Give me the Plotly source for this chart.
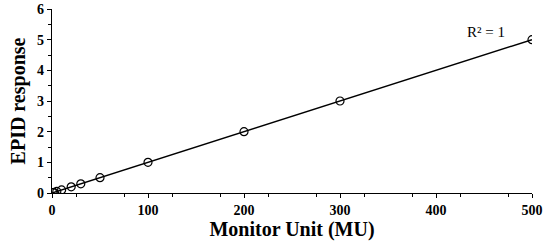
"""EPID response vs monitor units, with linear fit (R^2 = 1)."""
import plotly.graph_objects as go

MU = [1, 2, 5, 10, 20, 30, 50, 100, 200, 300, 500]
RESPONSE = [0.01, 0.02, 0.05, 0.10, 0.20, 0.30, 0.50, 1.00, 2.00, 3.00, 5.00]
FIT_X = [0, 500]
FIT_Y = [0.0, 5.0]
X_TICKS = [0, 100, 200, 300, 400, 500]
Y_TICKS = [0, 1, 2, 3, 4, 5, 6]

FONT = "Liberation Serif"

fig = go.Figure()
fig.add_trace(go.Scatter(x=FIT_X, y=FIT_Y, mode="lines",
                         line=dict(color="black", width=1.5), showlegend=False))
fig.add_trace(go.Scatter(x=MU, y=RESPONSE, mode="markers", showlegend=False,
                         marker=dict(symbol="circle-open", size=8, color="black",
                                     line=dict(width=1.2, color="black"))))

fig.add_annotation(x=452, y=5.25, text="R² = 1", showarrow=False,
                   font=dict(family=FONT, size=15, color="black"))

tick_font = dict(family=FONT, size=14, color="black", weight="bold")

fig.update_xaxes(range=[0, 500], tickmode="array", tickvals=X_TICKS,
                 ticktext=[f"<b>{v}</b>" for v in X_TICKS], tickfont=tick_font,
                 showline=True, linecolor="black", linewidth=1.3,
                 ticks="outside", ticklen=4, tickwidth=1.2, tickcolor="black",
                 showgrid=False, zeroline=False, automargin=False,
                 minor=dict(tickvals=list(range(25, 500, 50)), ticks="outside", ticklen=3,
                            tickcolor="black", tickwidth=1),
                 title=dict(text="<b>Monitor Unit (MU)</b>", standoff=4,
                            font=dict(family=FONT, size=20, color="black")))
fig.update_yaxes(range=[0, 6], tickmode="array", tickvals=Y_TICKS,
                 ticktext=[f"<b>{v}</b>" for v in Y_TICKS], tickfont=tick_font,
                 showline=True, linecolor="black", linewidth=1.3,
                 ticks="outside", ticklen=4, tickwidth=1.2, tickcolor="black",
                 showgrid=False, zeroline=False, automargin=False,
                 minor=dict(tickvals=[0.5, 1.5, 2.5, 3.5, 4.5, 5.5], ticks="outside", ticklen=3,
                            tickcolor="black", tickwidth=1),
                 title=dict(text="<b>EPID response</b>", standoff=6,
                            font=dict(family=FONT, size=20, color="black")))

fig.update_layout(width=550, height=251, plot_bgcolor="white", paper_bgcolor="white",
                  font=dict(family=FONT, size=14, color="black"),
                  margin=dict(l=52, r=18, t=9, b=58))

fig.write_html("out.html", config={"displayModeBar": False},
               post_script="document.body.style.margin='0';document.body.style.overflow='hidden';")
